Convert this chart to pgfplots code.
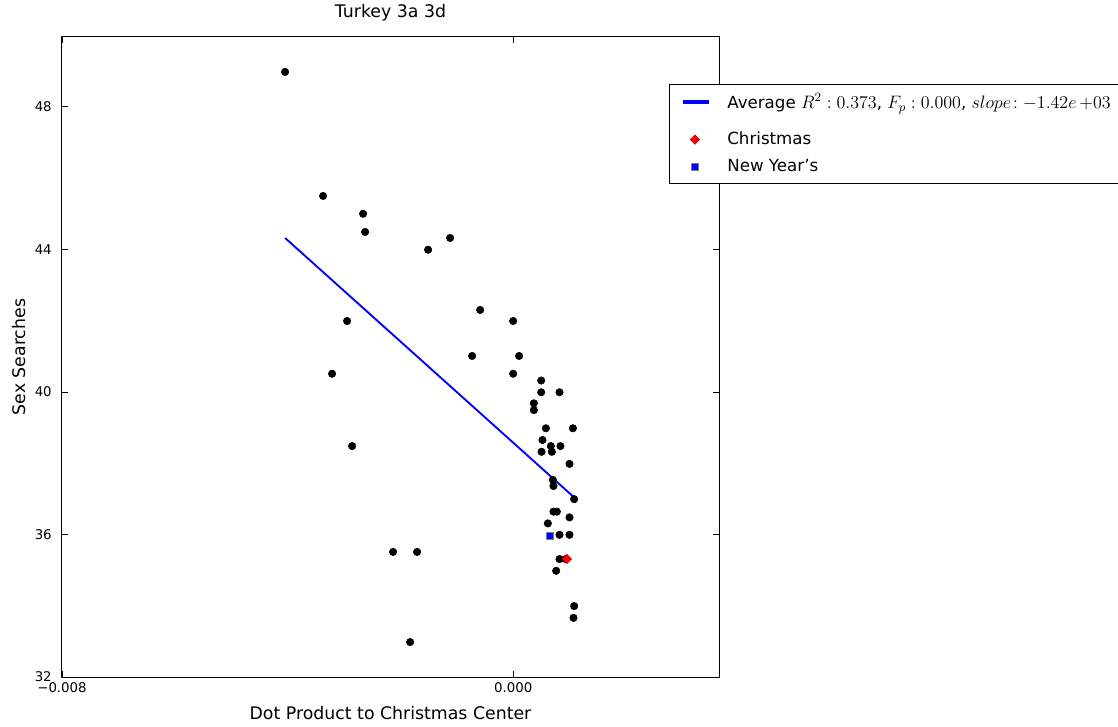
\RequirePackage{fix-cm}
\documentclass[border=0pt]{standalone}
\usepackage{pgfplots}
\pgfplotsset{compat=1.18}
\usepackage{fontspec}
\setmainfont{DejaVu Sans}
\pgfplotsset{
  linelegend/.style={legend image code/.code={\path (0pt,-14.5pt) (18pt,0pt); \fill[blue] (0pt,-0.5pt) rectangle (18pt,0.5pt);}},
  marklegend/.style={legend image code/.code={\path (0pt,0pt) (18pt,0pt); \draw[##1] plot coordinates {(8pt,0pt)};}},
}
\newcommand{\mth}[1]{{\fontsize{13.5}{16}\selectfont$#1$}}
\begin{document}
\begin{tikzpicture}
\begin{axis}[
  name=ax,
  scale only axis,
  width=492.75pt, height=480pt,
  xmin=-0.008, xmax=0.00365,
  ymin=32, ymax=49.96,
  scaled x ticks=false, scaled y ticks=false,
  xtick={-0.008,0}, xticklabels={−0.008,0.000},
  ytick={32,36,40,44,48}, yticklabels={32,36,40,44,48},
  tick align=inside,
  major tick length=4.5pt,
  minor tick num=0,
  tick style={black, line width=0.6pt},
  axis line style={black, line width=0.75pt},
  ticklabel style={font=\fontsize{10}{12}\selectfont},
  xticklabel style={inner sep=0pt, anchor=north, yshift=-3.75pt},
  yticklabel style={inner sep=0pt, anchor=east, xshift=-7.5pt},
  title={Turkey 3a 3d},
  title style={font=\fontsize{13}{15}\selectfont, at={(axis description cs:0.5,1)}, anchor=base, yshift=8.25pt, inner sep=0pt},
  xlabel={Dot Product to Christmas Center},
  xlabel style={font=\fontsize{13}{15}\selectfont, at={(axis description cs:0.5,0)}, anchor=base, yshift=-32pt, inner sep=0pt},
  ylabel={Sex Searches},
  ylabel style={font=\fontsize{13}{15}\selectfont, at={(axis description cs:-0.0563,0.5)}, anchor=base, inner sep=0pt},
  legend style={at={(axis description cs:0.924,0.9266)}, anchor=north west,
    draw=black, line width=0.6pt, fill=white,
    font=\fontsize{12.5}{15}\selectfont,
    inner xsep=10.5pt, inner ysep=5pt,
    row sep=5.5pt,
    /tikz/every odd column/.append style={column sep=11.5pt}},
  legend cell align=left,
]
\addplot[only marks, mark=*, mark size=2.8pt, black, forget plot] coordinates {
(-0.004044,48.98) (-0.003370,45.50) (-0.002661,45.00) (-0.002625,44.49)
(-0.001508,43.99) (-0.001118,44.32) (-0.002945,41.99) (-0.003211,40.51)
(-0.002856,38.48) (-0.002129,35.51) (-0.001703,35.51) (-0.001827,32.98)
(-0.000585,42.30) (-0.000727,41.01) (0.000000,41.99) (0.000106,41.01)
(0.000000,40.51) (0.000497,40.32) (0.000497,39.99) (0.000822,39.99)
(0.000367,39.68) (0.000367,39.49) (0.000580,38.98) (0.001059,38.98)
(0.000520,38.65) (0.000668,38.48) (0.000839,38.48) (0.000503,38.32)
(0.000686,38.32) (0.000999,37.98) (0.000704,37.53) (0.000715,37.36)
(0.001082,36.99) (0.000715,36.64) (0.000775,36.64) (0.000999,36.48)
(0.000615,36.31) (0.000822,35.99) (0.000999,35.99) (0.000822,35.31)
(0.000930,35.31) (0.000763,34.98) (0.001082,33.99) (0.001070,33.66)
};
\addplot[blue, line width=1.4pt, no marks, linelegend]
  coordinates {(-0.004044,44.32) (0.001082,37.04)};
\addlegendentry{Average \mth{R^2: 0.373}, \mth{F_p: 0.000}, \mth{slope\!: -1.42e\,{+}03}}
\addplot[only marks, mark=square*, mark size=2.5pt, mark options={rotate=45, fill=red, draw=red!70!black, line width=0.3pt}, marklegend]
  coordinates {(0.000952,35.31)};
\addlegendentry{Christmas}
\addplot[only marks, mark=square*, mark size=2.7pt, mark options={fill=blue, draw=gray, line width=0.4pt}, marklegend]
  coordinates {(0.000645,35.96)};
\addlegendentry{New Year's}
\end{axis}
\pgfresetboundingbox
\path ([shift={(-46.5pt,-36.75pt)}]ax.south west) rectangle ([shift={(792pt,507.75pt)}]ax.south west);
\end{tikzpicture}
\end{document}
